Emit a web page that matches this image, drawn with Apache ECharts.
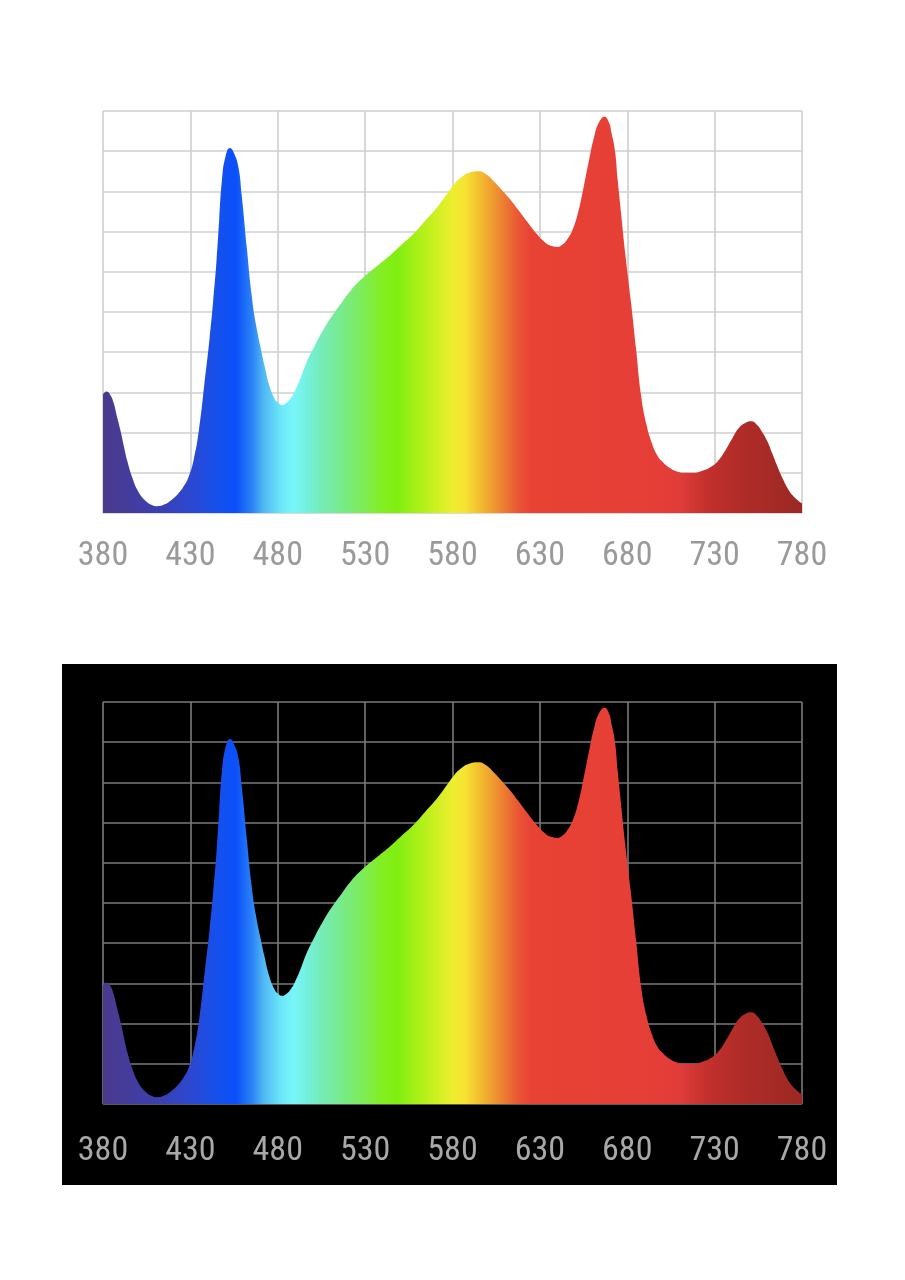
<!DOCTYPE html>
<html>
<head>
<meta charset="utf-8">
<style>
  html, body { margin: 0; padding: 0; background: #ffffff; }
  #chart { width: 905px; height: 1280px; }
</style>
<script src="https://cdn.jsdelivr.net/npm/echarts@6/dist/echarts.min.js"></script>
</head>
<body>
<div id="chart"></div>
<script>
// Wavelength (nm) of each sampled point on the spectrum outline
var wavelengths = [380, 382, 384, 386, 388, 390, 392, 394, 397, 400, 404, 408, 411, 415, 419, 423, 426, 429, 432, 435, 438, 441, 443, 445, 446.5, 448, 450, 452.7, 455, 457.5, 459.4, 462.3, 465, 467.5, 470, 472.5, 475, 478, 480.5, 482.5, 485, 487.5, 490, 493, 496.5, 501, 506, 511, 516, 522, 530, 537, 544, 551, 558.5, 565, 572, 577, 581, 585, 590, 595, 599, 603, 608, 613, 618, 623, 628, 633, 637, 640, 643, 646, 649, 652, 655, 658, 661, 664, 667, 669.5, 671, 673, 674.5, 676, 679, 682, 685, 688, 691, 694, 697, 700, 704, 708, 713, 718, 723, 728, 732, 736, 740, 744, 748, 751, 754, 757, 760, 763, 766, 769, 772, 775, 778, 780];
// Relative intensity (0-100) at each wavelength
var intensity = [29.5, 30.2, 29.5, 27.5, 24, 20.5, 16.5, 12.8, 8.5, 5.5, 3.2, 2, 1.7, 2.1, 3.2, 4.8, 6.5, 9, 13.5, 21, 32, 43.5, 52.5, 63, 73, 82.5, 88.5, 90.8, 89.5, 86, 79, 66, 54.5, 47, 41.5, 36.5, 32, 28.6, 27.3, 26.9, 27.4, 28.6, 30.5, 33.5, 37.5, 41.5, 45.5, 49, 52, 55.5, 59, 61.5, 64, 66.8, 69.8, 73, 76.5, 79.5, 81.8, 83.5, 84.7, 85, 84.3, 82.8, 80.5, 78, 75.2, 72.3, 69.5, 67.3, 66.4, 66.2, 66.8, 68.3, 70.8, 75, 81, 87.5, 93.5, 97.3, 98.6, 97.2, 94.5, 90, 83, 76.5, 64, 53, 41, 29, 22, 17.5, 14.5, 12.8, 11.3, 10.4, 10, 10, 10.5, 11.5, 13, 15.5, 18.5, 21.2, 22.5, 22.8, 22, 20.3, 18, 14.8, 11.5, 8.5, 6, 4.2, 3, 2.4];
// Axis tick labels
var xTicks = [380, 430, 480, 530, 580, 630, 680, 730, 780];
// Spectrum colours along the wavelength axis
var colorNm = [380, 395, 412, 430, 445, 456, 465, 472, 482, 489, 497, 505, 515, 527, 540, 548, 560, 570, 580, 587, 594, 602, 610, 618, 625, 700, 710, 725, 745, 780];
var colorHex = ['#4b3a8c', '#443c9c', '#3a40b0', '#2c48d0', '#1650ec', '#0a50fa', '#2a80f4', '#50b8f4', '#6ce8f8', '#78f6f8', '#74f0dc', '#76ecb8', '#78ea90', '#7cec60', '#84ee20', '#80ee10', '#a8f018', '#ccf020', '#eeee30', '#f6e432', '#f4c430', '#f0a030', '#ec7a32', '#ea5434', '#e84234', '#e53e38', '#e03c3a', '#c4302c', '#b02c28', '#9c2824'];

var xMin = xTicks[0], xMax = xTicks[xTicks.length - 1];
var pts = wavelengths.map(function (w, i) { return [w, intensity[i]]; });
var stops = colorNm.map(function (w, i) { return { offset: (w - xMin) / (xMax - xMin), color: colorHex[i] }; });

var labelFont = "'Roboto Condensed', 'Liberation Sans Narrow', 'Roboto', sans-serif";

function xAxis(gridIndex, labelColor, lineColor, margin) {
  return {
    type: 'value', gridIndex: gridIndex, min: xMin, max: xMax, interval: 50,
    axisLine: { show: false }, axisTick: { show: false },
    axisLabel: { color: labelColor, fontSize: 34, fontFamily: labelFont, margin: margin, showMinLabel: true, showMaxLabel: true },
    splitLine: { show: true, showMinLine: true, showMaxLine: true, lineStyle: { color: lineColor, width: 1.6 } }
  };
}
function yAxis(gridIndex, lineColor) {
  return {
    type: 'value', gridIndex: gridIndex, min: 0, max: 100, interval: 10,
    axisLine: { show: false }, axisTick: { show: false }, axisLabel: { show: false },
    splitLine: { show: true, showMinLine: true, showMaxLine: true, lineStyle: { color: lineColor, width: 1.6 } }
  };
}
function series(idx) {
  return {
    type: 'line', xAxisIndex: idx, yAxisIndex: idx, data: pts,
    smooth: 0.5, showSymbol: false, silent: true,
    lineStyle: { width: 0, opacity: 0 },
    areaStyle: { opacity: 1, color: new echarts.graphic.LinearGradient(0, 0, 1, 0, stops) }
  };
}

var chart = echarts.init(document.getElementById('chart'), null, { renderer: 'canvas' });
chart.setOption({
  backgroundColor: '#ffffff',
  animation: false,
  graphic: [{
    type: 'rect', z: -100, silent: true,
    shape: { x: 62, y: 664, width: 775, height: 521 },
    style: { fill: '#000000' }
  }],
  grid: [
    { left: 103, right: 103, top: 111, height: 402 },
    { left: 103, right: 103, top: 702, height: 402 }
  ],
  xAxis: [xAxis(0, '#9a9a9a', '#cfcfcf', 26), xAxis(1, '#a8a8a8', '#7a7a7a', 30)],
  yAxis: [yAxis(0, '#cfcfcf'), yAxis(1, '#7a7a7a')],
  series: [series(0), series(1)]
});
</script>
</body>
</html>
